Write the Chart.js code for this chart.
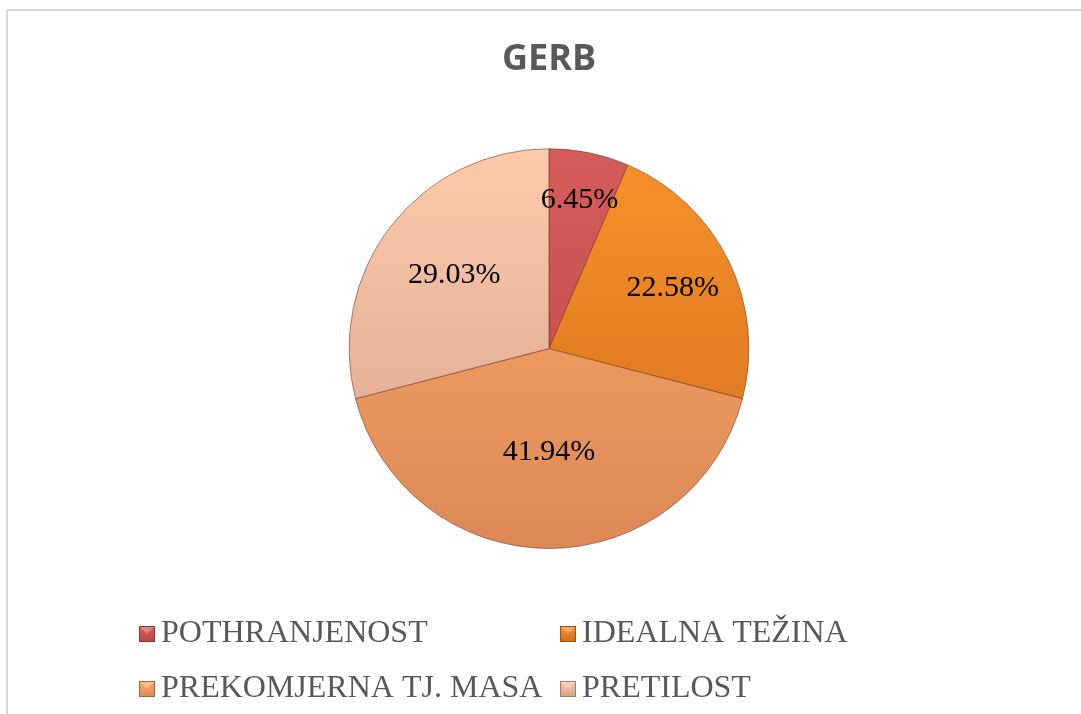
<!DOCTYPE html>
<html>
<head>
<meta charset="utf-8">
<title>GERB</title>
<script src="https://cdn.jsdelivr.net/npm/chart.js@4"></script>
<style>
  html, body { margin: 0; padding: 0; background: #fff; }
  #wrap { position: relative; width: 1081px; height: 714px; overflow: hidden; }
  #frame { position: absolute; left: 6px; top: 9px; width: 1200px; height: 800px;
           border-left: 2px solid #d9d9d9; border-top: 2px solid #d9d9d9; }
  canvas { position: absolute; left: 0; top: 0; }
</style>
</head>
<body>
<div id="wrap">
  <div id="frame"></div>
  <canvas id="gerbChart" width="1081" height="714"></canvas>
</div>
<script>
const chartTitle = 'GERB';
const categories = ['POTHRANJENOST', 'IDEALNA TEŽINA', 'PREKOMJERNA TJ. MASA', 'PRETILOST'];
const shares = [6.45, 22.58, 41.94, 29.03];

// slice shading: light at the top of the pie, darker at the bottom
const topColors = ['#d65c5c', '#f7922a', '#fbab66', '#fdcaab'];
const bottomColors = ['#bd4646', '#d26e1e', '#dc8857', '#d7a28c'];
const edgeColors = ['#8c3030', '#9a4f14', '#a4643c', '#a07c6a'];

function sliceFill(c) {
  const area = c.chart.chartArea;
  const i = c.dataIndex;
  if (!area) return topColors[i];
  const g = c.chart.ctx.createLinearGradient(0, area.top, 0, area.bottom);
  g.addColorStop(0, topColors[i]);
  g.addColorStop(1, bottomColors[i]);
  return g;
}

// percentage labels inside the slices
const sliceLabels = {
  id: 'sliceLabels',
  afterDatasetsDraw(chart, args, opts) {
    const ctx = chart.ctx;
    const meta = chart.getDatasetMeta(0);
    ctx.save();
    ctx.font = opts.font;
    ctx.fillStyle = opts.color;
    ctx.textAlign = 'center';
    ctx.textBaseline = 'middle';
    meta.data.forEach((arc, i) => {
      const p = arc.getProps(['x', 'y', 'startAngle', 'endAngle', 'outerRadius'], true);
      const mid = (p.startAngle + p.endAngle) / 2;
      const r = p.outerRadius * opts.radial[i];
      ctx.fillText(shares[i].toFixed(2) + '%', p.x + Math.cos(mid) * r, p.y + Math.sin(mid) * r);
    });
    ctx.restore();
  }
};

// two-column legend like the Excel one
const gridLegend = {
  id: 'gridLegend',
  afterDraw(chart, args, opts) {
    const ctx = chart.ctx;
    const s = opts.boxSize;
    ctx.save();
    ctx.font = opts.font;
    ctx.textBaseline = 'middle';
    ctx.textAlign = 'left';
    categories.forEach((name, i) => {
      const x = opts.colX[i % 2];
      const y = opts.rowY[Math.floor(i / 2)];
      const top = y - s / 2;
      const g = ctx.createLinearGradient(0, top, 0, top + s);
      g.addColorStop(0, topColors[i]);
      g.addColorStop(1, bottomColors[i]);
      ctx.fillStyle = g;
      ctx.fillRect(x, top, s, s);
      // little bevel highlight
      ctx.fillStyle = 'rgba(255,255,255,0.28)';
      ctx.beginPath();
      ctx.moveTo(x + 1, top + 1);
      ctx.lineTo(x + s - 1, top + 1);
      ctx.lineTo(x + s / 2, top + s / 2);
      ctx.closePath();
      ctx.fill();
      ctx.strokeStyle = edgeColors[i];
      ctx.lineWidth = 1;
      ctx.strokeRect(x + 0.5, top + 0.5, s - 1, s - 1);
      ctx.fillStyle = opts.color;
      ctx.fillText(name, x + s + opts.gap, y);
    });
    ctx.restore();
  }
};

const ctx = document.getElementById('gerbChart');
new Chart(ctx, {
  type: 'pie',
  data: {
    labels: categories,
    datasets: [{
      data: shares,
      backgroundColor: sliceFill,
      borderColor: 'rgba(110,50,20,0.55)',
      borderWidth: 1
    }]
  },
  options: {
    responsive: false,
    animation: false,
    layout: { padding: { left: 17, right: 0, top: 0, bottom: 165 } },
    plugins: {
      legend: { display: false },
      tooltip: { enabled: false },
      title: {
        display: true,
        text: chartTitle,
        color: '#595959',
        font: { family: '"Open Sans", sans-serif', size: 36, weight: 'bold' },
        padding: { top: 38, bottom: 67 }
      },
      sliceLabels: {
        font: '30px "Liberation Serif", "Times New Roman", serif',
        color: '#000',
        radial: [0.76, 0.69, 0.52, 0.6]
      },
      gridLegend: {
        font: '32px "Liberation Serif", "Times New Roman", serif',
        color: '#595959',
        boxSize: 16,
        gap: 6,
        colX: [139, 560],
        rowY: [634, 689]
      }
    }
  },
  plugins: [sliceLabels, gridLegend]
});
</script>
</body>
</html>
